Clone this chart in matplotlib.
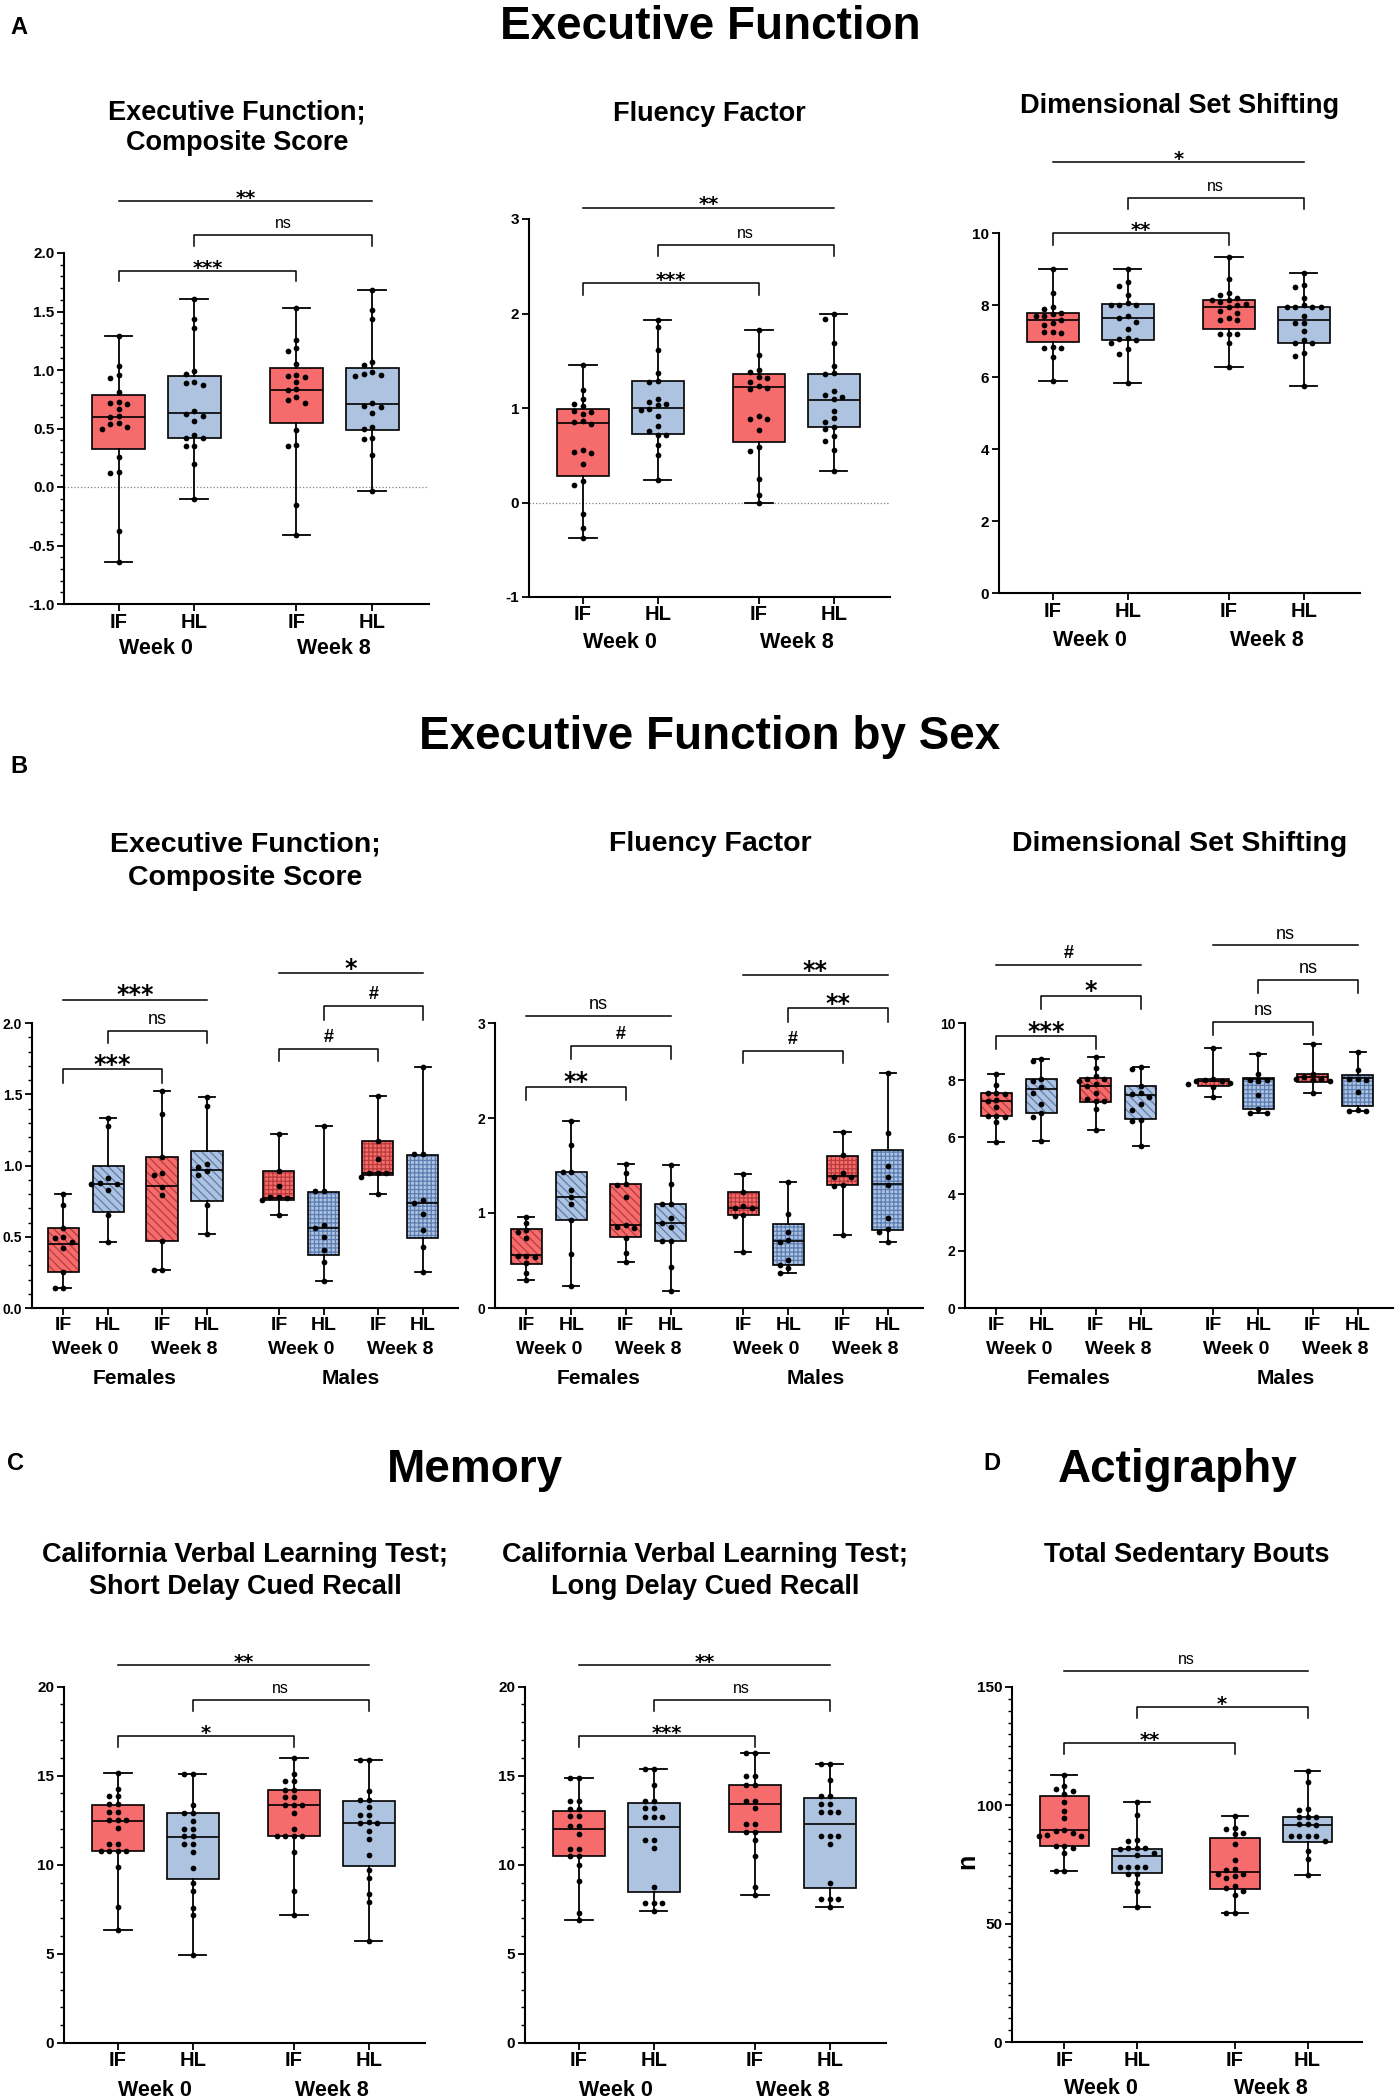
import matplotlib.pyplot as plt
from matplotlib.patches import PathPatch
from matplotlib.ticker import MultipleLocator

plt.rcParams['font.family'] = ['Liberation Sans', 'DejaVu Sans']
plt.rcParams['axes.unicode_minus'] = False
plt.rcParams['hatch.linewidth'] = 0.9

W, H = 1397, 2100
RED, BLUE = '#F66B6B', '#AEC3E0'
RED_H, BLUE_H = '#B83C3C', '#5C7DB2'

groups = ['IF', 'HL', 'IF', 'HL']
weeks = ['Week 0', 'Week 8']
sexes = ['Females', 'Males']
pos4 = [0, 1, 2.35, 3.35]
pos8 = [0, 1, 2.2, 3.2, 4.8, 5.8, 7.0, 8.0]

# ---- A: executive function (IF wk0, HL wk0, IF wk8, HL wk8) ----
ef_q1 = [0.325, 0.42, 0.55, 0.49]
ef_med = [0.60, 0.635, 0.83, 0.71]
ef_q3 = [0.79, 0.95, 1.02, 1.02]
ef_pts = [
    [1.29, 1.03, 0.96, 0.93, 0.81, 0.73, 0.71, 0.72, 0.67, 0.61, 0.60, 0.55, 0.54, 0.51, 0.50, 0.26, 0.12, 0.13, -0.38, -0.645],
    [1.61, 1.44, 1.36, 0.99, 0.97, 0.90, 0.89, 0.875, 0.65, 0.62, 0.61, 0.56, 0.445, 0.42, 0.42, 0.35, 0.35, 0.20, -0.10],
    [1.53, 1.26, 1.19, 1.16, 1.05, 0.96, 0.95, 0.94, 0.90, 0.84, 0.83, 0.77, 0.72, 0.74, 0.49, 0.36, 0.35, -0.155, -0.41],
    [1.68, 1.51, 1.44, 1.07, 1.04, 0.98, 0.97, 0.96, 0.95, 0.72, 0.69, 0.68, 0.63, 0.51, 0.50, 0.42, 0.41, 0.27, -0.03],
]

flu_q1 = [0.28, 0.72, 0.64, 0.80]
flu_med = [0.84, 1.00, 1.22, 1.08]
flu_q3 = [0.99, 1.29, 1.36, 1.36]
flu_pts = [
    [1.46, 1.19, 1.09, 1.04, 1.02, 0.97, 0.96, 0.94, 0.86, 0.85, 0.83, 0.56, 0.53, 0.52, 0.41, 0.23, 0.18, -0.12, -0.275, -0.375],
    [1.93, 1.86, 1.615, 1.37, 1.29, 1.28, 1.10, 1.06, 1.04, 1.03, 0.99, 0.98, 0.92, 0.81, 0.76, 0.71, 0.71, 0.61, 0.50, 0.24],
    [1.83, 1.56, 1.40, 1.38, 1.33, 1.32, 1.27, 1.23, 1.21, 1.20, 0.92, 0.88, 0.88, 0.77, 0.59, 0.54, 0.25, 0.08, 0.0],
    [2.0, 1.94, 1.69, 1.44, 1.37, 1.36, 1.18, 1.14, 1.12, 1.10, 0.97, 0.89, 0.85, 0.80, 0.78, 0.70, 0.65, 0.56, 0.33],
]

dss_q1 = [6.98, 7.03, 7.36, 6.97]
dss_med = [7.60, 7.66, 7.96, 7.60]
dss_q3 = [7.78, 8.04, 8.16, 7.97]
dss_pts = [
    [9.0, 8.36, 7.95, 7.9, 7.8, 7.75, 7.7, 7.7, 7.6, 7.5, 7.45, 7.24, 7.25, 7.25, 6.82, 6.82, 6.85, 6.56, 5.9],
    [9.0, 8.64, 8.55, 8.29, 8.08, 8.0, 8.0, 8.0, 7.7, 7.65, 7.55, 7.35, 7.07, 7.05, 7.1, 6.95, 6.8, 6.66, 5.84],
    [9.36, 8.73, 8.35, 8.3, 8.2, 8.15, 8.15, 8.1, 8.05, 8.0, 7.95, 7.85, 7.8, 7.65, 7.6, 7.6, 7.2, 7.2, 7.2, 6.95, 6.28],
    [8.91, 8.57, 8.5, 8.2, 8.0, 7.95, 7.95, 7.95, 7.95, 7.7, 7.5, 7.5, 7.28, 7.05, 6.95, 6.95, 6.69, 6.6, 5.77],
]

# ---- B: by sex (F IF0, F HL0, F IF8, F HL8, M IF0, M HL0, M IF8, M HL8) ----
efs_q1 = [0.254, 0.675, 0.47, 0.75, 0.76, 0.37, 0.93, 0.49]
efs_med = [0.45, 0.87, 0.855, 0.965, 0.775, 0.56, 0.945, 0.735]
efs_q3 = [0.56, 1.0, 1.06, 1.105, 0.96, 0.815, 1.17, 1.077]
efs_pts = [
    [0.80, 0.72, 0.56, 0.50, 0.49, 0.46, 0.42, 0.25, 0.14, 0.14],
    [1.33, 1.28, 0.91, 0.88, 0.87, 0.87, 0.83, 0.65, 0.46],
    [1.52, 1.36, 1.06, 0.95, 0.93, 0.85, 0.79, 0.47, 0.27, 0.27],
    [1.48, 1.42, 1.01, 0.99, 0.96, 0.93, 0.72, 0.52],
    [1.22, 0.96, 0.855, 0.78, 0.78, 0.77, 0.76, 0.65],
    [1.28, 0.82, 0.82, 0.58, 0.56, 0.50, 0.41, 0.325, 0.19],
    [1.49, 1.17, 1.045, 0.95, 0.95, 0.95, 0.92, 0.80],
    [1.69, 1.08, 1.08, 0.76, 0.74, 0.66, 0.55, 0.43, 0.25],
]

flus_q1 = [0.465, 0.93, 0.745, 0.71, 0.98, 0.45, 1.29, 0.82]
flus_med = [0.555, 1.17, 0.87, 0.89, 1.05, 0.705, 1.39, 1.31]
flus_q3 = [0.83, 1.43, 1.31, 1.09, 1.22, 0.885, 1.605, 1.66]
flus_pts = [
    [0.96, 0.895, 0.825, 0.80, 0.74, 0.55, 0.55, 0.54, 0.47, 0.37, 0.30],
    [1.97, 1.716, 1.43, 1.43, 1.24, 1.17, 1.09, 0.93, 0.57, 0.23],
    [1.52, 1.42, 1.31, 1.30, 1.17, 0.87, 0.84, 0.85, 0.74, 0.575, 0.48],
    [1.505, 1.31, 1.09, 1.09, 0.95, 0.89, 0.85, 0.71, 0.71, 0.43, 0.18],
    [1.41, 1.22, 1.07, 1.05, 1.05, 0.98, 0.97, 0.59],
    [1.33, 0.99, 0.805, 0.72, 0.70, 0.51, 0.45, 0.42, 0.37],
    [1.85, 1.61, 1.42, 1.38, 1.38, 1.30, 1.28, 0.77],
    [2.47, 1.84, 1.49, 1.375, 1.30, 0.95, 0.83, 0.80, 0.69],
]

dsss_q1 = [6.74, 6.83, 7.24, 6.62, 7.79, 6.97, 7.94, 7.08]
dsss_med = [7.28, 7.70, 7.79, 7.48, 7.97, 8.02, 8.10, 8.07]
dsss_q3 = [7.54, 8.02, 8.07, 7.79, 8.04, 8.08, 8.20, 8.19]
dsss_pts = [
    [8.2, 7.83, 7.55, 7.55, 7.5, 7.3, 7.25, 7.04, 6.75, 6.72, 6.7, 6.51, 5.83],
    [8.72, 8.65, 8.05, 7.95, 7.75, 7.54, 7.17, 6.85, 6.71, 5.86],
    [8.81, 8.43, 8.15, 8.05, 8.05, 7.95, 7.85, 7.8, 7.55, 7.35, 7.25, 7.25, 6.97, 6.25],
    [8.45, 8.4, 7.8, 7.55, 7.5, 7.4, 7.15, 6.94, 6.6, 6.55, 5.7],
    [9.12, 8.05, 8.0, 7.95, 7.95, 7.9, 7.85, 7.75, 7.42],
    [8.9, 8.2, 8.0, 7.98, 8.0, 7.46, 6.97, 6.85, 6.85],
    [9.28, 8.22, 8.1, 8.05, 8.05, 8.0, 7.95, 7.55],
    [9.0, 8.34, 8.05, 8.05, 8.0, 7.57, 6.95, 6.9, 6.9],
]

# ---- C: memory ----
sd_q1 = [10.76, 9.2, 11.59, 9.93]
sd_med = [12.48, 11.57, 13.35, 12.32]
sd_q3 = [13.35, 12.88, 14.18, 13.6]
sd_pts = [
    [15.15, 14.25, 13.83, 13.83, 13.4, 13.4, 12.94, 12.94, 12.5, 12.5, 12.5, 12.05, 11.17, 11.17, 10.75, 10.75, 10.75, 10.75, 9.87, 7.64, 6.33],
    [15.1, 15.1, 13.35, 12.9, 12.9, 12.48, 12.0, 12.0, 11.6, 11.6, 11.15, 11.15, 10.7, 9.82, 8.95, 8.5, 7.6, 7.17, 4.94],
    [16.0, 15.1, 14.7, 14.7, 14.2, 14.2, 13.8, 13.8, 13.35, 13.35, 13.35, 12.9, 12.0, 11.6, 11.6, 11.6, 11.6, 10.72, 8.5, 7.17],
    [15.89, 15.89, 14.12, 13.65, 13.65, 13.23, 12.8, 12.8, 12.4, 12.35, 12.35, 11.9, 11.44, 10.55, 9.68, 9.26, 8.37, 7.91, 5.71],
]

ld_q1 = [10.48, 8.46, 11.85, 8.71]
ld_med = [12.0, 12.1, 13.39, 12.31]
ld_q3 = [13.04, 13.45, 14.47, 13.72]
ld_pts = [
    [14.87, 14.87, 13.55, 13.55, 13.1, 13.1, 12.72, 12.72, 12.2, 12.2, 11.75, 10.9, 10.9, 10.5, 10.5, 9.98, 9.1, 7.3, 6.9],
    [15.38, 15.38, 14.49, 13.55, 13.55, 13.18, 13.18, 12.7, 12.7, 12.7, 11.41, 11.41, 10.94, 8.73, 7.85, 7.85, 7.85, 7.42],
    [16.26, 16.26, 14.97, 14.97, 14.45, 14.45, 13.6, 13.6, 13.18, 12.27, 12.27, 11.85, 11.85, 11.41, 10.5, 8.73, 8.32],
    [15.63, 15.63, 14.74, 13.85, 13.85, 13.39, 13.39, 12.97, 12.97, 12.97, 11.62, 11.62, 11.62, 11.19, 8.98, 8.1, 8.1, 8.1, 7.65],
]

# ---- D: actigraphy ----
sed_q1 = [82.7, 71.4, 64.8, 84.7]
sed_med = [89.7, 78.4, 71.9, 91.7]
sed_q3 = [103.75, 81.6, 86.0, 95.0]
sed_pts = [
    [113, 108, 107, 106, 105, 101.6, 97.7, 94.5, 89.5, 89, 88.5, 87.3, 87, 87, 83, 83, 82, 80, 72.2, 72.2],
    [101.4, 96.1, 85.5, 85, 82, 82, 82, 81.5, 80, 79, 74.1, 74, 74, 74, 71, 71, 67, 63.9, 57.2],
    [95.5, 90.6, 90, 88.5, 88, 83.6, 76.9, 73, 72.5, 71, 71, 70, 69.5, 66, 65, 64, 62.2, 54.5, 54.5],
    [114.7, 109.7, 98.3, 98, 95, 95, 95, 92, 92, 91.5, 87, 87, 87, 87, 85, 80.8, 77.2, 70.6],
]

fig = plt.figure(figsize=(W / 100, H / 100), dpi=100)


def ftext(x, y, s, size, weight='bold', **kw):
    fig.text(x / W, 1 - y / H, s, fontsize=size, fontweight=weight,
             ha=kw.pop('ha', 'center'), va=kw.pop('va', 'center'), **kw)


def make_ax(l, r, t, b, ylim, xlim, major, minor=None, fs=11):
    ax = fig.add_axes([l / W, 1 - b / H, (r - l) / W, (b - t) / H])
    ax.set_xlim(*xlim)
    ax.set_ylim(*ylim)
    ax.yaxis.set_major_locator(MultipleLocator(major))
    if minor:
        ax.yaxis.set_minor_locator(MultipleLocator(minor))
    for s in ['top', 'right']:
        ax.spines[s].set_visible(False)
    for s in ['left', 'bottom']:
        ax.spines[s].set_linewidth(1.5)
    ax.tick_params(axis='y', which='major', length=5, width=1.3, labelsize=fs, pad=2)
    ax.tick_params(axis='y', which='minor', length=3, width=1.0)
    ax.tick_params(axis='x', length=5, width=1.3)
    for lab in ax.get_yticklabels():
        lab.set_fontweight('bold')
    return ax


def swarm(ax, x0, vals, step=8.5, gap=6.0):
    p0 = ax.transData.transform((0, 0))
    p1 = ax.transData.transform((1, 1))
    sx, sy = p1[0] - p0[0], p1[1] - p0[1]
    placed = []
    xs, ys = [], []
    for v in sorted(vals, reverse=True):
        py = v * sy
        k = 0
        while True:
            off = 0 if k == 0 else ((k + 1) // 2) * step * (-1 if k % 2 else 1)
            if not any(abs(py - qy) < gap and abs(off - qo) < step * 0.9 for qo, qy in placed):
                break
            k += 1
        placed.append((off, py))
        xs.append(x0 + off / sx)
        ys.append(v)
    ax.scatter(xs, ys, s=17, color='black', zorder=4, linewidths=0)


def boxes(ax, pos, q1, med, q3, pts, width=0.7, hatched=False):
    stats = [dict(med=med[i], q1=q1[i], q3=q3[i], whislo=min(pts[i]), whishi=max(pts[i]))
             for i in range(len(pos))]
    bp = ax.bxp(stats, positions=pos, widths=width, capwidths=width * 0.52,
                patch_artist=True, showfliers=False, manage_ticks=False,
                boxprops=dict(linewidth=1.2, edgecolor='black'),
                medianprops=dict(color='black', linewidth=1.2),
                whiskerprops=dict(color='black', linewidth=1.3),
                capprops=dict(color='black', linewidth=1.3))
    for i, b in enumerate(bp['boxes']):
        red = i % 2 == 0
        b.set_facecolor(RED if red else BLUE)
        if hatched:
            b.set_hatch('\\\\\\\\' if i < 4 else '++++')
            b.set_edgecolor(RED_H if red else BLUE_H)
            b.set_linewidth(0)
            ax.add_patch(PathPatch(b.get_path(), fill=False, edgecolor='black',
                                   linewidth=1.2, zorder=b.get_zorder() + 0.1))
    for i, x in enumerate(pos):
        swarm(ax, x, pts[i])
    ax.set_xticks(pos)
    ax.set_xticklabels([])


def sig(ax, x1, x2, y, drop, label, size):
    if drop is None:
        ax.plot([x1, x2], [y, y], color='black', lw=1.1, clip_on=False)
    else:
        ax.plot([x1, x1, x2, x2], [drop, y, y, drop], color='black', lw=1.1, clip_on=False)
    star = label.startswith('*')
    if star:
        kw = dict(family='DejaVu Sans', fontweight='bold', fontsize=size)
        pad = -2
    else:
        kw = dict(fontweight='bold' if label == '#' else 'normal', fontsize=size)
        pad = 5
    ax.annotate(label, xy=((x1 + x2) / 2, y), xytext=(0, pad),
                textcoords='offset points', ha='center', va='baseline',
                annotation_clip=False, **kw)


def under(ax, x, text, dy, size):
    ax.annotate(text, xy=(x, 0), xycoords=('data', 'axes fraction'), xytext=(0, -dy),
                textcoords='offset pixels', ha='center', va='center',
                fontsize=size, fontweight='bold', annotation_clip=False)


def labels4(ax, dy2=45):
    for x, g in zip(pos4, groups):
        under(ax, x, g, 18, 14.5)
    under(ax, (pos4[0] + pos4[1]) / 2, weeks[0], dy2, 15.5)
    under(ax, (pos4[2] + pos4[3]) / 2, weeks[1], dy2, 15.5)


def labels8(ax):
    for x, g in zip(pos8, groups * 2):
        under(ax, x, g, 18, 14)
    for j in range(4):
        under(ax, (pos8[2 * j] + pos8[2 * j + 1]) / 2, weeks[j % 2], 41, 14)
    under(ax, (pos8[0] + pos8[3]) / 2, sexes[0], 70, 15)
    under(ax, (pos8[4] + pos8[7]) / 2, sexes[1], 70, 15)


XL4 = (-0.72, 4.1)
XL8 = (-0.69, 8.78)

# section titles and letters
ftext(710, 27, 'Executive Function', 33)
ftext(710, 737, 'Executive Function by Sex', 33)
ftext(475, 1470, 'Memory', 33)
ftext(1178, 1470, 'Actigraphy', 33)
for x, y, s in [(19, 27, 'A'), (19, 766, 'B'), (16, 1464, 'C'), (992, 1464, 'D')]:
    ftext(x, y, s, 17)

# ---- panel A ----
ax = make_ax(64, 429, 253, 604, (-1, 2), XL4, 0.5, 0.1)
ax.axhline(0, color='grey', ls=':', lw=0.9, zorder=0)
boxes(ax, pos4, ef_q1, ef_med, ef_q3, ef_pts)
sig(ax, 0, 3.35, 2.445, None, '**', 14)
sig(ax, 1, 3.35, 2.155, 2.06, 'ns', 11.5)
sig(ax, 0, 2.35, 1.845, 1.76, '***', 14)
labels4(ax)
ftext(237, 112, 'Executive Function;', 19.5)
ftext(237, 143, 'Composite Score', 19.5)

ax = make_ax(529, 890, 219, 597, (-1, 3), XL4, 1)
ax.axhline(0, color='grey', ls=':', lw=0.9, zorder=0)
boxes(ax, pos4, flu_q1, flu_med, flu_q3, flu_pts)
sig(ax, 0, 3.35, 3.12, None, '**', 14)
sig(ax, 1, 3.35, 2.73, 2.61, 'ns', 11.5)
sig(ax, 0, 2.35, 2.32, 2.196, '***', 14)
labels4(ax)
ftext(709, 114, 'Fluency Factor', 19.5)

ax = make_ax(999, 1360, 233.5, 593.5, (0, 10), XL4, 2)
boxes(ax, pos4, dss_q1, dss_med, dss_q3, dss_pts)
sig(ax, 0, 3.35, 11.99, None, '*', 14)
sig(ax, 1, 3.35, 10.99, 10.69, 'ns', 11.5)
sig(ax, 0, 2.35, 10.0, 9.69, '**', 14)
labels4(ax, 47)
ftext(1180, 106, 'Dimensional Set Shifting', 19.5)

# ---- panel B ----
ax = make_ax(32, 458, 1023, 1308, (0, 2), XL8, 0.5, 0.1, fs=10)
boxes(ax, pos8, efs_q1, efs_med, efs_q3, efs_pts, width=0.69, hatched=True)
sig(ax, 0, 3.2, 2.164, None, '***', 17)
sig(ax, 1, 3.2, 1.947, 1.86, 'ns', 13)
sig(ax, 0, 2.2, 1.675, 1.58, '***', 17)
sig(ax, 4.8, 8.0, 2.35, None, '*', 17)
sig(ax, 5.8, 8.0, 2.12, 2.02, '#', 13)
sig(ax, 4.8, 7.0, 1.82, 1.73, '#', 13)
labels8(ax)
ftext(245, 844, 'Executive Function;', 20.5)
ftext(245, 878, 'Composite Score', 20.5)

ax = make_ax(495, 923, 1023, 1308, (0, 3), XL8, 1, fs=10)
boxes(ax, pos8, flus_q1, flus_med, flus_q3, flus_pts, width=0.69, hatched=True)
sig(ax, 0, 3.2, 3.075, None, 'ns', 13)
sig(ax, 1, 3.2, 2.754, 2.62, '#', 13)
sig(ax, 0, 2.2, 2.33, 2.19, '**', 17)
sig(ax, 4.8, 8.0, 3.507, None, '**', 17)
sig(ax, 5.8, 8.0, 3.155, 3.015, '**', 17)
sig(ax, 4.8, 7.0, 2.707, 2.576, '#', 13)
labels8(ax)
ftext(710, 844, 'Fluency Factor', 20.5)

ax = make_ax(965, 1393, 1023, 1308, (0, 10), XL8, 2, fs=10)
boxes(ax, pos8, dsss_q1, dsss_med, dsss_q3, dsss_pts, width=0.69, hatched=True)
sig(ax, 0, 3.2, 12.03, None, '#', 13)
sig(ax, 1, 3.2, 10.96, 10.5, '*', 17)
sig(ax, 0, 2.2, 9.55, 9.09, '***', 17)
sig(ax, 4.8, 8.0, 12.72, None, 'ns', 13)
sig(ax, 5.8, 8.0, 11.5, 11.07, 'ns', 13)
sig(ax, 4.8, 7.0, 10.04, 9.59, 'ns', 13)
labels8(ax)
ftext(1180, 844, 'Dimensional Set Shifting', 20.5)

# ---- panel C ----
ax = make_ax(64, 425, 1686.5, 2043, (0, 20), XL4, 5, 1)
boxes(ax, pos4, sd_q1, sd_med, sd_q3, sd_pts)
sig(ax, 0, 3.35, 21.2, None, '**', 14)
sig(ax, 1, 3.35, 19.23, 18.65, 'ns', 11.5)
sig(ax, 0, 2.35, 17.2, 16.6, '*', 14)
labels4(ax, 47)
ftext(245, 1555, 'California Verbal Learning Test;', 19.5)
ftext(245, 1587, 'Short Delay Cued Recall', 19.5)

ax = make_ax(525, 886, 1686.5, 2043, (0, 20), XL4, 5, 1)
boxes(ax, pos4, ld_q1, ld_med, ld_q3, ld_pts)
sig(ax, 0, 3.35, 21.2, None, '**', 14)
sig(ax, 1, 3.35, 19.23, 18.65, 'ns', 11.5)
sig(ax, 0, 2.35, 17.23, 16.63, '***', 14)
labels4(ax, 47)
ftext(705, 1555, 'California Verbal Learning Test;', 19.5)
ftext(705, 1587, 'Long Delay Cued Recall', 19.5)

# ---- panel D ----
ax = make_ax(1012, 1362, 1687, 2042, (0, 150), XL4, 50, 5)
boxes(ax, pos4, sed_q1, sed_med, sed_q3, sed_pts, width=0.68)
sig(ax, 0, 3.35, 156.6, None, 'ns', 11.5)
sig(ax, 1, 3.35, 141.4, 137, '*', 14)
sig(ax, 0, 2.35, 126.4, 121.9, '**', 14)
labels4(ax, 47)
ftext(1187, 1555, 'Total Sedentary Bouts', 19.5)
ftext(967, 1861, 'n', 18, rotation=90)

fig.savefig('out.png', dpi=100)
